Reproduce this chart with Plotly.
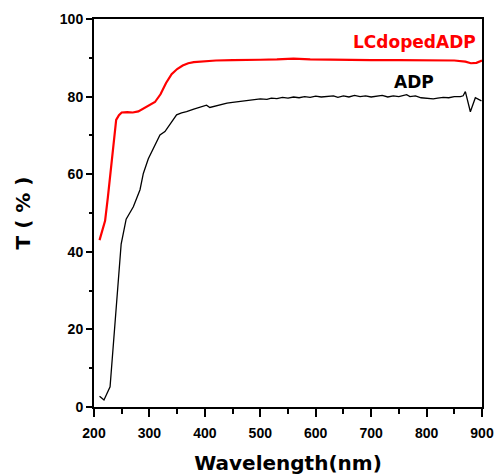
import plotly.graph_objects as go

# LC doped ADP (red)
lc_wl = [210, 215, 220, 225, 230, 235, 240, 245, 250, 260, 270, 280, 290, 300, 310, 320, 330, 340,
         350, 360, 370, 380, 390, 400, 420, 450, 480, 500, 530, 560, 590, 620, 650, 700, 750, 800,
         850, 870, 880, 890, 900]
lc_t = [43, 45.5, 48, 54, 61, 68.8, 74, 75.2, 75.9, 76, 75.9, 76.2, 77, 77.8, 78.6, 80.6, 83.5, 85.8,
        87.1, 88, 88.6, 88.9, 89.0, 89.2, 89.3, 89.4, 89.4, 89.5, 89.6, 89.8, 89.6, 89.5, 89.5, 89.4, 89.4, 89.3,
        89.3, 89.0, 88.6, 88.7, 89.3]

# pure ADP (black)
adp_wl = [210, 218, 229, 240, 249, 258, 271, 283, 289, 298, 307, 319, 328, 338, 349, 358, 367, 380,
          390, 397, 403, 409, 420, 430, 440, 450, 460, 470, 478, 490, 500, 512, 520, 530, 540, 550,
          560, 570, 580, 590, 600, 610, 620, 632, 640, 650, 660, 670, 680, 690, 700, 710, 720, 730,
          740, 750, 760, 764, 770, 780, 790, 800, 812, 820, 830, 840, 850, 861, 866, 870, 879, 888,
          893, 899]
adp_t = [2.8, 1.8, 5.2, 25, 42, 48.4, 51.6, 56, 60.2, 64, 66.7, 70.1, 71, 73, 75.3, 75.8, 76.1, 76.8,
         77.3, 77.6, 77.8, 77.2, 77.6, 78.0, 78.3, 78.5, 78.7, 78.9, 79.1, 79.2, 79.4, 79.3, 79.6, 79.5, 79.8, 79.6,
         79.9, 79.7, 80.0, 79.8, 80.1, 79.9, 80.0, 80.2, 79.8, 80.2, 79.9, 80.3, 80.0, 80.2, 79.9, 80.1, 80.3, 79.9,
         80.2, 80.0, 80.3, 80.5, 80.0, 80.2, 79.7, 79.5, 79.4, 79.6, 79.8, 79.7, 80.0, 80.0, 80.2, 81.3, 76.1, 79.7,
         79.4, 78.9]

x_ticks = [200, 300, 400, 500, 600, 700, 800, 900]
y_ticks = [0, 20, 40, 60, 80, 100]

fig = go.Figure()
fig.add_trace(go.Scatter(x=adp_wl, y=adp_t, mode="lines", line=dict(color="black", width=1.3),
                         showlegend=False))
fig.add_trace(go.Scatter(x=lc_wl, y=lc_t, mode="lines", line=dict(color="#ff0000", width=2.2),
                         showlegend=False))

fig.add_annotation(x=779, y=94.2, text="<b>LCdopedADP</b>", showarrow=False,
                   font=dict(family="DejaVu Sans", size=17, color="#ff0000"))
fig.add_annotation(x=777, y=83.8, text="<b>ADP</b>", showarrow=False,
                   font=dict(family="DejaVu Sans", size=17, color="black"))

tickfont = dict(family="Liberation Sans", size=14, color="black", weight="bold")
fig.update_xaxes(range=[200, 900], tickvals=x_ticks, ticks="outside", ticklen=8, tickwidth=2,
                 tickcolor="black", showline=True, linewidth=2, linecolor="black", mirror=True,
                 showgrid=False, zeroline=False, tickfont=tickfont, automargin=False,
                 ticklabelstandoff=4,
                 minor=dict(tickvals=[250, 350, 450, 550, 650, 750, 850], ticks="outside", ticklen=5,
                            tickwidth=2, tickcolor="black"),
                 title=dict(text="<b>Wavelength(nm)</b>", standoff=18,
                            font=dict(family="DejaVu Sans", size=20, color="black")))
fig.update_yaxes(range=[0, 100], tickvals=y_ticks, ticks="outside", ticklen=6, tickwidth=2,
                 tickcolor="black", showline=True, linewidth=2, linecolor="black", mirror=True,
                 showgrid=False, zeroline=False, tickfont=tickfont, automargin=False,
                 minor=dict(tickvals=[10, 30, 50, 70, 90], ticks="outside", ticklen=3,
                            tickwidth=2, tickcolor="black"),
                 title=dict(text="<b>T ( % )</b>", standoff=24,
                            font=dict(family="DejaVu Sans", size=20, color="black")))

fig.update_layout(width=495, height=475, margin=dict(l=94, r=13, t=19, b=68),
                  plot_bgcolor="white", paper_bgcolor="white")

fig.write_html("out.html")
